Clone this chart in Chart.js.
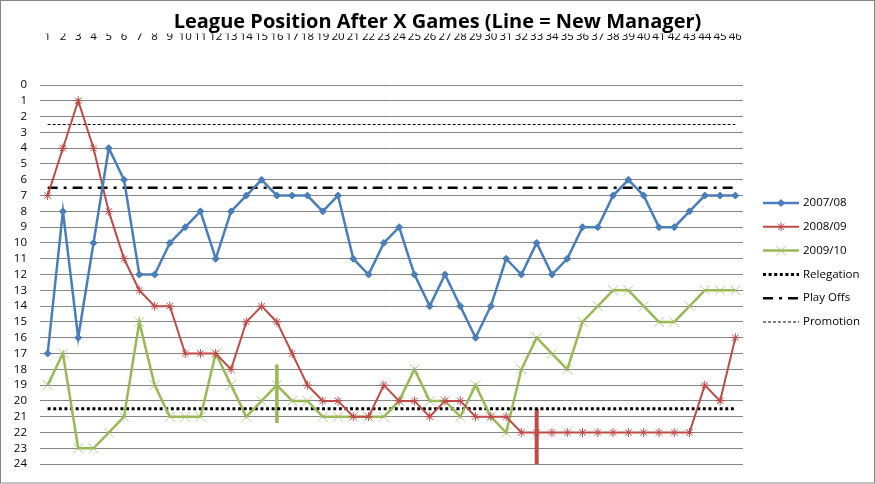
<!DOCTYPE html>
<html>
<head>
<meta charset="utf-8">
<script src="https://cdn.jsdelivr.net/npm/chart.js@4/dist/chart.umd.min.js"></script>
<style>
  html, body { margin: 0; padding: 0; background: #fff; }
  #caixa { width: 875px; height: 484px; }
</style>
</head>
<body>
<div id="caixa"><canvas id="graficoLiga"></canvas></div>
<script>
// Jogos (eixo de cima)
var jogos = ['1','2','3','4','5','6','7','8','9','10','11','12','13','14','15','16','17','18','19','20',
             '21','22','23','24','25','26','27','28','29','30','31','32','33','34','35','36','37','38','39','40',
             '41','42','43','44','45','46'];

// Posição na tabela depois de cada jogo
var temporada0708 = [17,8,16,10,4,6,12,12,10,9,8,11,8,7,6,7,7,7,8,7,11,12,10,9,12,14,12,14,16,14,11,12,10,12,11,9,9,7,6,7,9,9,8,7,7,7];
var temporada0809 = [7,4,1,4,8,11,13,14,14,17,17,17,18,15,14,15,17,19,20,20,21,21,19,20,20,21,20,20,21,21,21,22,22,22,22,22,22,22,22,22,22,22,22,19,20,16];
var temporada0910 = [19,17,23,23,22,21,15,19,21,21,21,17,19,21,20,19,20,20,21,21,21,21,21,20,18,20,20,21,19,21,22,18,16,17,18,15,14,13,13,14,15,15,14,13,13,13];

// Linhas de referência (posição entre as zonas)
var linhaRebaixamento = 20.5;
var linhaPlayOffs = 6.5;
var linhaPromocao = 2.5;

// Troca de técnico: jogo e trecho vertical da marca
var novoTecnico0910 = { jogo: '16', de: 17.7, ate: 21.4 };
var novoTecnico0809 = { jogo: '33', de: 20.5, ate: 24 };

var titulo = 'League Position After X Games (Line = New Manager)';

var azul = '#4A7EBB';
var vermelho = '#BE4B48';
var verde = '#98B954';

function linhaHorizontal(valor) {
    return [{ x: jogos[0], y: valor }, { x: jogos[jogos.length - 1], y: valor }];
}

// Título e legenda desenhados à mão, no estilo do Excel
var pluginLegenda = {
    id: 'legendaExcel',
    afterDraw: function (chart) {
        var ctx = chart.ctx;
        ctx.save();

        ctx.fillStyle = '#000';
        ctx.font = 'bold 20px "Open Sans"';
        ctx.textAlign = 'center';
        ctx.textBaseline = 'middle';
        ctx.fillText(titulo, chart.width / 2, 22);

        var x0 = 763, x1 = 799, y = 203;
        chart.data.datasets.forEach(function (ds) {
            if (!ds.label) return;
            ctx.beginPath();
            ctx.setLineDash(ds.borderDash || []);
            ctx.lineWidth = ds.borderWidth;
            ctx.strokeStyle = ds.borderColor;
            ctx.moveTo(x0, y);
            ctx.lineTo(x1, y);
            ctx.stroke();
            ctx.setLineDash([]);
            if (ds.pointRadius > 0 && Chart.helpers && Chart.helpers.drawPoint) {
                ctx.fillStyle = ds.pointBackgroundColor;
                ctx.strokeStyle = ds.pointBorderColor;
                ctx.lineWidth = ds.pointBorderWidth;
                Chart.helpers.drawPoint(ctx, {
                    pointStyle: ds.pointStyle, radius: ds.pointRadius,
                    borderWidth: ds.pointBorderWidth, rotation: 0
                }, (x0 + x1) / 2, y);
            }
            ctx.fillStyle = '#000';
            ctx.font = '11.5px "Open Sans"';
            ctx.textAlign = 'left';
            ctx.textBaseline = 'middle';
            ctx.fillText(ds.label, x1 + 4, y);
            y += 23.8;
        });
        // moldura do gráfico
        ctx.strokeStyle = '#868686';
        ctx.lineWidth = 1;
        ctx.strokeRect(0.5, 0.5, chart.width - 1, chart.height - 1.5);
        ctx.restore();
    }
};

var ctx = document.getElementById('graficoLiga').getContext('2d');
var graficoLiga = new Chart(ctx, {
    type: 'line',
    data: {
        labels: jogos,
        datasets: [
            {
                label: '2007/08', data: temporada0708,
                borderColor: azul, borderWidth: 2.5,
                pointStyle: 'rectRot', pointRadius: 3.5,
                pointBackgroundColor: azul, pointBorderColor: azul, pointBorderWidth: 1
            },
            {
                label: '2008/09', data: temporada0809,
                borderColor: vermelho, borderWidth: 2,
                pointStyle: 'star', pointRadius: 4.5,
                pointBackgroundColor: vermelho, pointBorderColor: vermelho, pointBorderWidth: 1
            },
            {
                label: '2009/10', data: temporada0910,
                borderColor: verde, borderWidth: 2.5,
                pointStyle: 'crossRot', pointRadius: 7,
                pointBackgroundColor: 'rgba(160,190,110,0.8)', pointBorderColor: 'rgba(160,190,110,0.8)', pointBorderWidth: 1
            },
            {
                label: 'Relegation', data: linhaHorizontal(linhaRebaixamento),
                borderColor: '#000', borderWidth: 3, borderDash: [3, 2.6],
                pointRadius: 0
            },
            {
                label: 'Play Offs', data: linhaHorizontal(linhaPlayOffs),
                borderColor: '#000', borderWidth: 2.5, borderDash: [10, 6, 3, 6],
                pointRadius: 0
            },
            {
                label: 'Promotion', data: linhaHorizontal(linhaPromocao),
                borderColor: '#000', borderWidth: 1, borderDash: [3, 2],
                pointRadius: 0
            },
            {
                data: [{ x: novoTecnico0910.jogo, y: novoTecnico0910.de }, { x: novoTecnico0910.jogo, y: novoTecnico0910.ate }],
                borderColor: verde, borderWidth: 3.5, pointRadius: 0
            },
            {
                data: [{ x: novoTecnico0809.jogo, y: novoTecnico0809.de }, { x: novoTecnico0809.jogo, y: novoTecnico0809.ate }],
                borderColor: vermelho, borderWidth: 4, pointRadius: 0
            }
        ]
    },
    options: {
        responsive: true,
        maintainAspectRatio: false,
        animation: false,
        layout: { padding: { left: 0, right: 132, top: 33.6, bottom: 17 } },
        plugins: {
            legend: { display: false },
            tooltip: { enabled: false },
            title: { display: false }
        },
        scales: {
            x: {
                position: 'top',
                offset: true,
                grid: { display: false, drawTicks: false },
                border: { display: false },
                ticks: {
                    color: '#000', autoSkip: false, maxRotation: 0, padding: 41,
                    font: { family: '"Open Sans"', size: 11.5 }
                },
                afterFit: function (escala) { escala.height = 51.4; }
            },
            y: {
                reverse: true,
                min: 0, max: 24,
                grid: { color: '#868686', lineWidth: 1, drawTicks: false },
                border: { display: false },
                ticks: {
                    stepSize: 1, autoSkip: false, color: '#000', padding: 13,
                    font: { family: '"Open Sans"', size: 11.5 }
                },
                afterFit: function (escala) { escala.width = 40; }
            }
        }
    },
    plugins: [pluginLegenda]
});
</script>
</body>
</html>
